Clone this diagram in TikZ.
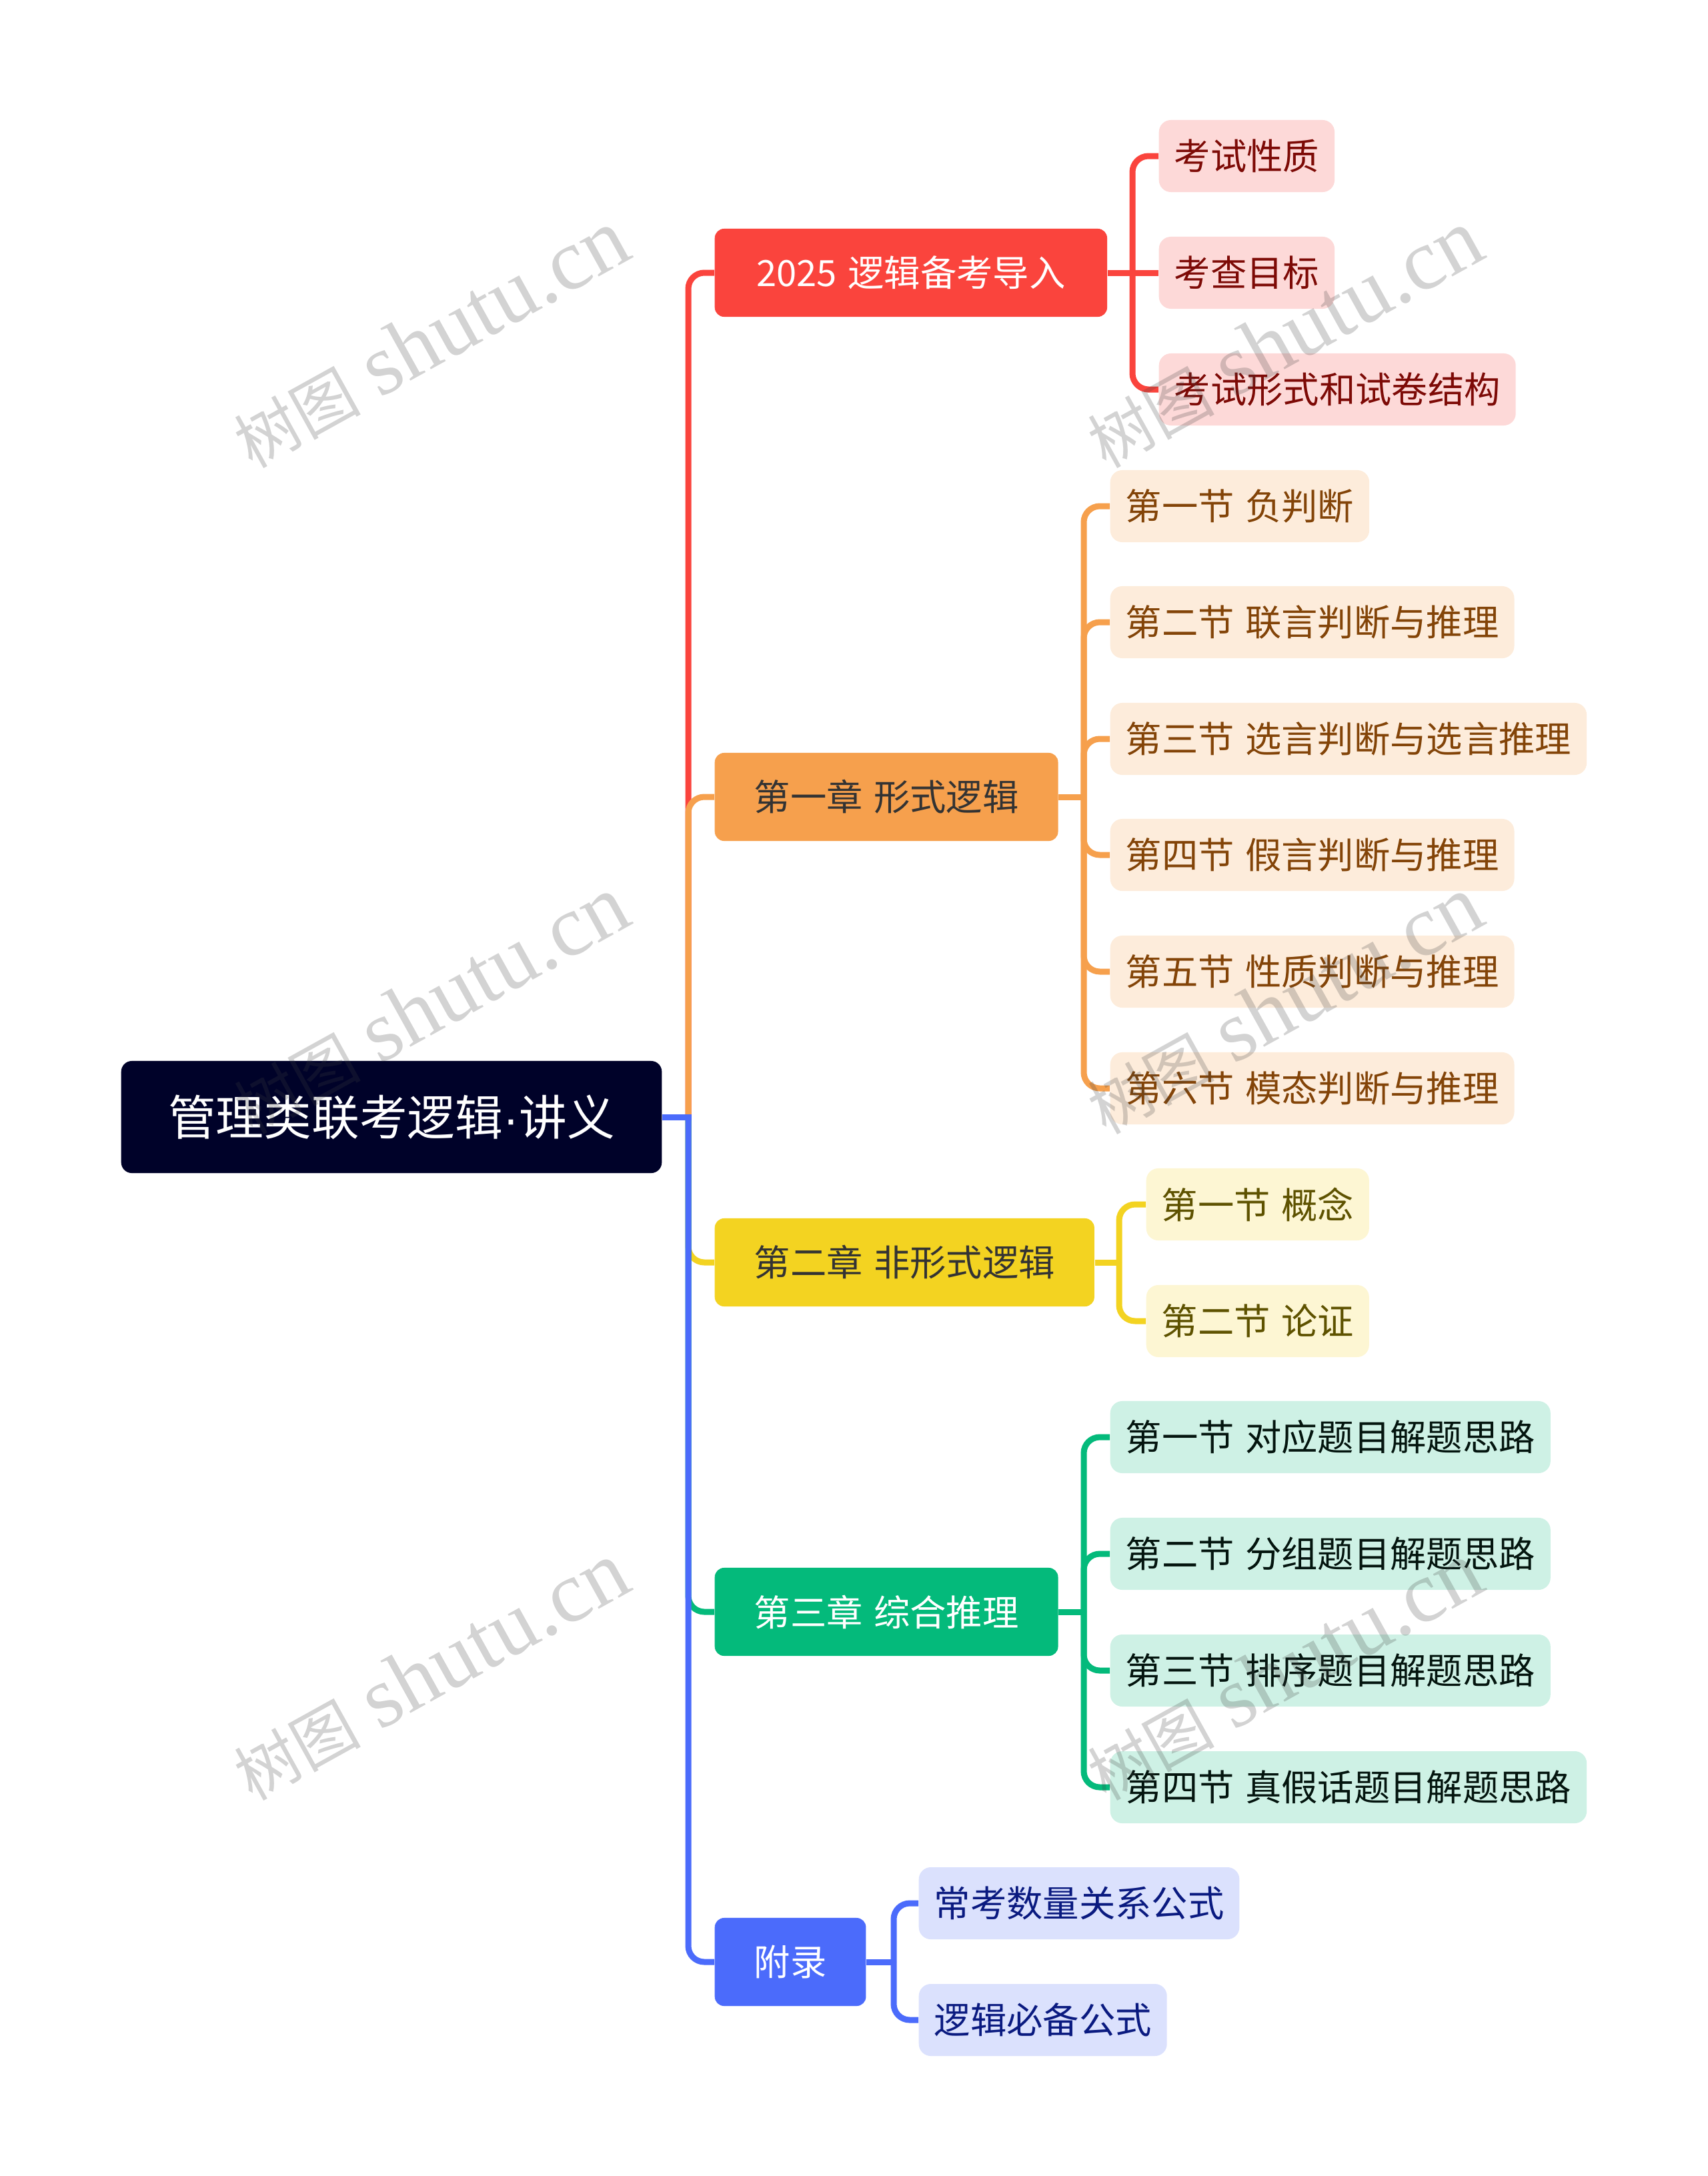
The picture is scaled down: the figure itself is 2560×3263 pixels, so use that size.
\documentclass[tikz,border=0pt]{standalone}
\usepackage{xcolor}
\usepackage{fontspec}
\usepackage{tikz}
\usetikzlibrary{positioning}
\setmainfont[WordSpace=1.35]{Noto Sans CJK SC}
\newfontfamily\markfont{Liberation Serif}
\newfontfamily\dotfont{Liberation Sans}
\definecolor{rootcol}{HTML}{000229}
\definecolor{redcol}{HTML}{FA443D}
\definecolor{redlight}{HTML}{FDD9D8}
\definecolor{redtext}{HTML}{7D0A06}
\definecolor{orangecol}{HTML}{F6A04D}
\definecolor{orangelight}{HTML}{FDECDB}
\definecolor{orangetext}{HTML}{834408}
\definecolor{yellowcol}{HTML}{F3D321}
\definecolor{yellowlight}{HTML}{FDF6D3}
\definecolor{yellowtext}{HTML}{5E5200}
\definecolor{greencol}{HTML}{04BA7B}
\definecolor{greenlight}{HTML}{CEF1E5}
\definecolor{greentext}{HTML}{04150F}
\definecolor{bluecol}{HTML}{4B6BFB}
\definecolor{bluelight}{HTML}{DBE1FD}
\definecolor{bluetext}{HTML}{0A1A80}
\tikzset{
  rootbox/.style={fill=rootcol,text=white,rounded corners=0.16cm,inner xsep=0.705cm,minimum height=1.68cm,anchor=west,font=\fontsize{20.4}{24}\selectfont},
  branchbox/.style={fill=#1,rounded corners=0.14cm,inner xsep=0.59cm,minimum height=1.32cm,anchor=west,font=\fontsize{15.45}{18}\selectfont},
  leafbox/.style 2 args={fill=#1,text=#2,rounded corners=0.18cm,inner xsep=0.23cm,minimum height=1.08cm,anchor=west,font=\fontsize{15.45}{18}\selectfont},
  link/.style={draw=#1,line width=0.09cm,rounded corners=0.24cm},
  stub/.style={draw=#1,line width=0.09cm},
  markbox/.style={text=black!75,rotate=29,font=\fontsize{27}{38}\selectfont,opacity=0.23}
}
\begin{document}
\begin{tikzpicture}[x=0.01cm,y=-0.01cm]
  \useasboundingbox (0,0) rectangle (2560,3263);
  \node[rootbox] (root) at (181,1675) {管理类联考逻辑{\dotfont ·}讲义};
  \node[branchbox=redcol,text=white,minimum width=5.88cm] (intro) at (1071,409) {2025 逻辑备考导入};
  \node[branchbox=orangecol,text=black!80] (formal) at (1071,1195) {第一章 形式逻辑};
  \node[branchbox=yellowcol,text=black!80] (informal) at (1071,1893) {第二章 非形式逻辑};
  \node[branchbox=greencol,text=white] (reason) at (1071,2417) {第三章 综合推理};
  \node[branchbox=bluecol,text=white] (annex) at (1071,2942) {附录};
  \coordinate (trunk) at (1032,1675);
  % red
  \begin{scope}[every node/.style={leafbox={redlight}{redtext}}]
    \node (red1) at (1737,234) {考试性质};
    \node (red2) at (1737,409) {考查目标};
    \node (red3) at (1737,584) {考试形式和试卷结构};
  \end{scope}
  % orange
  \begin{scope}[every node/.style={leafbox={orangelight}{orangetext}}]
    \node (ora1) at (1664,759) {第一节 负判断};
    \node (ora2) at (1664,933) {第二节 联言判断与推理};
    \node (ora3) at (1664,1108) {第三节 选言判断与选言推理};
    \node (ora4) at (1664,1282) {第四节 假言判断与推理};
    \node (ora5) at (1664,1457) {第五节 性质判断与推理};
    \node (ora6) at (1664,1632) {第六节 模态判断与推理};
  \end{scope}
  % yellow
  \begin{scope}[every node/.style={leafbox={yellowlight}{yellowtext}}]
    \node (yel1) at (1718,1806) {第一节 概念};
    \node (yel2) at (1718,1981) {第二节 论证};
  \end{scope}
  % green
  \begin{scope}[every node/.style={leafbox={greenlight}{greentext}}]
    \node (gre1) at (1664,2155) {第一节 对应题目解题思路};
    \node (gre2) at (1664,2330) {第二节 分组题目解题思路};
    \node (gre3) at (1664,2505) {第三节 排序题目解题思路};
    \node (gre4) at (1664,2680) {第四节 真假话题目解题思路};
  \end{scope}
  % blue
  \begin{scope}[every node/.style={leafbox={bluelight}{bluetext}}]
    \node (blu1) at (1377,2854) {常考数量关系公式};
    \node (blu2) at (1377,3029) {逻辑必备公式};
  \end{scope}
  % trunk
  \draw[link=redcol] (trunk) |- (intro.west);
  \draw[link=orangecol] (trunk) |- (formal.west);
  \draw[link=yellowcol] (trunk) |- (informal.west);
  \draw[link=greencol] (trunk) |- (reason.west);
  \draw[link=bluecol] (trunk) |- (annex.west);
  \draw[stub=bluecol] (root.east) -- ([xshift=0.045cm]trunk);
  % sub branches
  \coordinate (redmid) at (1698,409);
  \draw[stub=redcol] (intro.east) -- (red2.west);
  \draw[link=redcol] (redmid) |- (red1.west);
  \draw[link=redcol] (redmid) |- (red3.west);
  \coordinate (oramid) at (1625,1195);
  \draw[stub=orangecol] (formal.east) -- (oramid);
  \foreach \n in {ora1,ora2,ora3,ora4,ora5,ora6}
    \draw[link=orangecol] (oramid) |- (\n.west);
  \coordinate (yelmid) at (1678,1893);
  \draw[stub=yellowcol] (informal.east) -- (yelmid);
  \foreach \n in {yel1,yel2}
    \draw[link=yellowcol] (yelmid) |- (\n.west);
  \coordinate (gremid) at (1625,2417);
  \draw[stub=greencol] (reason.east) -- (gremid);
  \foreach \n in {gre1,gre2,gre3,gre4}
    \draw[link=greencol] (gremid) |- (\n.west);
  \coordinate (blumid) at (1340,2942);
  \draw[stub=bluecol] (annex.east) -- (blumid);
  \foreach \n in {blu1,blu2}
    \draw[link=bluecol] (blumid) |- (\n.west);
  % marks
  \foreach \i/\xx/\yy in {1/645/508,2/1925/508,3/645/1507,4/1925/1507,5/645/2506,6/1925/2506}
    \node[markbox] (mark\i) at (\xx,\yy) {树图 {\markfont\fontsize{37}{38}\selectfont shutu.cn}};
\end{tikzpicture}
\end{document}
